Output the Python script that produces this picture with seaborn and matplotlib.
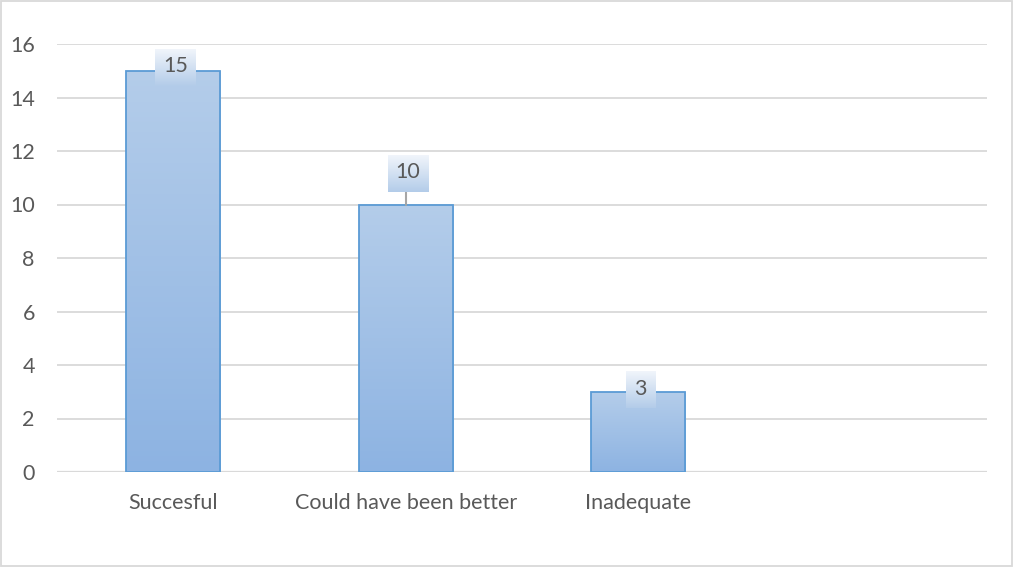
import numpy as np
import pandas as pd
import matplotlib
matplotlib.use("Agg")
import matplotlib.pyplot as plt
from matplotlib.patches import Rectangle
from matplotlib.colors import LinearSegmentedColormap
import seaborn as sns

categories = ["Succesful", "Could have been better", "Inadequate"]
counts = [15, 10, 3]
y_ticks = [0, 2, 4, 6, 8, 10, 12, 14, 16]

sns.set_theme(style="white")
plt.rcParams["font.family"] = ["Lato", "DejaVu Sans"]

W, H, DPI = 1014, 567, 100
fig = plt.figure(figsize=(W / DPI, H / DPI), dpi=DPI)
ax = fig.add_axes([57 / W, (H - 472) / H, (987 - 57) / W, (472 - 44) / H])

df = pd.DataFrame({"category": categories, "count": counts})
sns.barplot(data=df, x="category", y="count", ax=ax, width=0.405,
            color="#a3c1e6", edgecolor="#5b9bd5", linewidth=1.3, saturation=1)

ax.set_xlim(-0.5, 3.5)
ax.set_ylim(0, 16)
ax.set_yticks(y_ticks)
ax.set_xlabel("")
ax.set_ylabel("")
for s in ax.spines.values():
    s.set_visible(False)
ax.grid(axis="y", color="#d9d9d9", linewidth=1.3)
ax.set_axisbelow(True)
ax.tick_params(axis="y", length=0, pad=16, labelsize=15.5, labelcolor="#595959")
ax.tick_params(axis="x", length=0, pad=15, labelsize=15.5, labelcolor="#595959")
ax.axhline(0, color="#d9d9d9", linewidth=1.6, zorder=0.5)

# vertical gradient fill inside each bar
bar_cmap = LinearSegmentedColormap.from_list("bar", ["#8db3e2", "#b4cdea"])
grad = np.linspace(0, 1, 256).reshape(-1, 1)
for p in ax.patches:
    x0, w, h = p.get_x(), p.get_width(), p.get_height()
    im = ax.imshow(grad, cmap=bar_cmap, aspect="auto", origin="lower",
                   extent=[x0, x0 + w, 0, h], zorder=p.get_zorder() - 0.01,
                   interpolation="bilinear")
    im.set_clip_path(p)
    p.set_facecolor("none")
    p.set_zorder(3)
ax.set_xlim(-0.5, 3.5)
ax.set_ylim(0, 16)

# value labels in small gradient boxes
px_x = (987 - 57) / 4.0   # pixels per category slot
px_y = (472 - 44) / 16.0  # pixels per unit
label_cmap = LinearSegmentedColormap.from_list("lab", ["#b3cce9", "#f1f5fb"])
lift_px = [3.5, 31, 2]
for i, (v, lift) in enumerate(zip(counts, lift_px)):
    txt = str(v)
    bw = (41 if len(txt) > 1 else 30) / px_x
    bh = 37 / px_y
    cy = v + lift / px_y
    ax.imshow(grad, cmap=label_cmap, aspect="auto", origin="lower",
              extent=[i - bw / 2 + 0.01, i + bw / 2 + 0.01, cy - bh / 2, cy + bh / 2],
              zorder=5, interpolation="bilinear")
    if cy - bh / 2 > v:
        ax.plot([i, i], [v, cy - bh / 2], color="#a6a6a6", linewidth=1.5, zorder=4)
    ax.text(i + 0.01, cy + 0.04, txt, ha="center", va="center", fontsize=15.5,
            color="#595959", zorder=6)
ax.set_xlim(-0.5, 3.5)
ax.set_ylim(0, 16)

fig.patches.append(Rectangle((1 / W, 1 / H), 1011 / W, 565 / H, transform=fig.transFigure,
                             fill=False, edgecolor="#d9d9d9", linewidth=1.3))

fig.savefig("out.png", dpi=DPI)
